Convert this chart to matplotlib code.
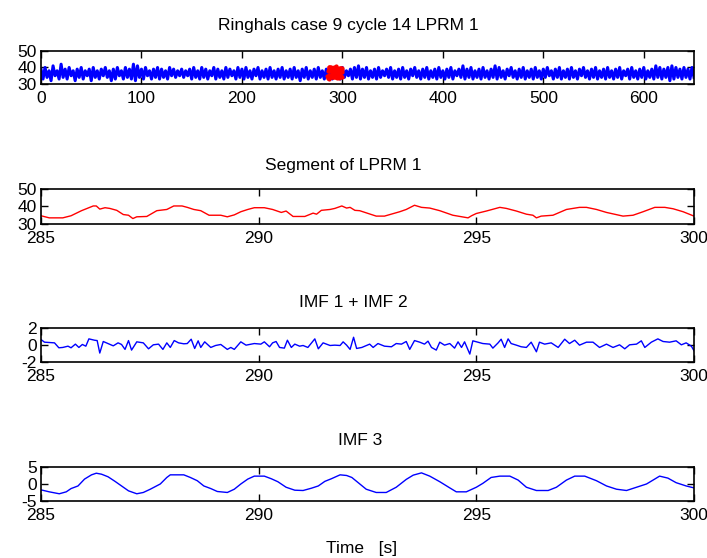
import numpy as np
import matplotlib
matplotlib.use('Agg')
import matplotlib.pyplot as plt

plt.rcParams['font.family'] = ['Liberation Sans', 'DejaVu Sans']
plt.rcParams['font.size'] = 12.5
plt.rcParams['axes.unicode_minus'] = False

# full LPRM 1 record, one value every 2 s
lprm_t = np.arange(0, 651, 2)
lprm = [39,33,40,34,38,32,41,35,38,33,42,34,39,33,40,35,38,32,39,34,
        40,33,38,35,39,32,40,34,38,33,39,35,40,34,38,32,39,33,40,35,
        38,33,40,34,39,33,42,32,41,34,39,33,40,35,38,33,39,34,40,33,
        39,34,38,33,40,35,39,34,38,35,39,34,38,35,39,33,40,34,38,33,
        40,34,39,33,38,35,40,33,39,34,38,33,40,34,39,35,38,33,40,34,
        39,33,40,34,38,33,39,35,40,33,38,34,39,33,40,34,38,33,39,34,
        40,33,38,34,39,33,40,34,38,32,39,34,40,33,38,34,39,33,40,34,
        38,33,39,34,40,33,38,34,39,33,40,34,38,35,39,33,40,34,41,33,
        39,34,40,33,38,34,39,33,40,34,38,35,39,34,40,33,38,34,39,33,
        40,34,38,33,39,35,40,34,38,33,39,34,40,33,38,34,39,33,40,34,
        38,33,39,34,40,33,38,35,39,34,41,33,39,34,40,33,38,34,39,33,
        40,34,38,33,39,34,41,33,40,34,38,33,39,35,40,34,38,33,39,34,
        40,33,38,34,39,33,40,34,38,33,39,34,40,35,38,33,39,34,40,33,
        38,34,39,33,40,34,38,33,39,35,40,34,38,33,39,34,40,33,38,34,
        39,33,40,34,38,33,39,34,40,33,38,35,39,33,40,34,38,33,39,34,
        40,33,38,34,39,33,41,34,40,33,39,34,40,32,41,33,40,34,39,33,
        40,34,39,33,40,34]

# segment 285-300 s
seg_t = [285.00,285.19,285.50,285.69,285.93,286.20,286.27,286.35,286.47,286.58,
         286.74,286.89,287.01,287.11,287.20,287.43,287.66,287.89,288.05,288.24,
         288.36,288.51,288.67,288.86,289.13,289.28,289.44,289.59,289.75,289.90,
         290.13,290.32,290.52,290.63,290.79,291.06,291.25,291.33,291.44,291.64,
         291.75,291.91,292.02,292.10,292.21,292.32,292.70,292.89,293.24,293.39,
         293.58,293.74,293.93,294.16,294.46,294.81,294.89,295.00,295.23,295.54,
         295.69,295.92,296.15,296.30,296.38,296.49,296.76,297.07,297.37,297.53,
         297.76,297.99,298.37,298.60,298.83,299.10,299.33,299.52,299.75,300.00]
seg = [34.7,33.5,33.5,34.7,37.6,40.3,40.3,38.5,39.3,38.9,
       37.8,35.4,35.0,33.1,34.1,34.3,37.6,38.3,40.3,40.3,
       39.5,38.3,37.6,35.0,35.0,34.1,35.2,37.0,38.3,39.3,
       39.3,38.3,36.6,37.4,34.3,34.3,36.2,35.6,37.8,38.3,
       38.9,40.3,39.1,39.5,37.8,37.6,34.5,34.5,37.0,38.3,
       40.7,39.5,39.1,37.6,35.0,33.5,34.7,36.0,37.4,39.5,
       38.9,37.4,35.6,35.0,33.5,34.5,35.0,38.3,39.5,39.5,
       38.3,36.6,34.5,35.0,37.0,39.5,39.5,38.7,37.0,34.5]

# IMF 1 + IMF 2
imf12_t = [285.00,285.08,285.31,285.41,285.50,285.62,285.69,285.79,285.87,285.95,
           286.03,286.10,286.23,286.29,286.35,286.43,286.54,286.66,286.77,286.85,
           286.93,287.01,287.08,287.20,287.35,287.47,287.58,287.70,287.80,287.89,
           287.97,288.06,288.16,288.28,288.36,288.45,288.53,288.61,288.67,288.76,
           288.90,289.01,289.13,289.28,289.36,289.44,289.59,289.71,289.90,290.05,
           290.13,290.25,290.32,290.40,290.48,290.59,290.66,290.75,290.83,290.94,
           291.02,291.13,291.29,291.37,291.48,291.64,291.75,291.87,291.94,292.02,
           292.10,292.18,292.25,292.37,292.55,292.63,292.74,292.89,293.05,293.16,
           293.28,293.39,293.47,293.58,293.70,293.81,293.89,293.97,294.08,294.16,
           294.27,294.39,294.50,294.58,294.66,294.73,294.85,294.92,295.04,295.15,
           295.31,295.38,295.50,295.57,295.65,295.73,295.80,295.92,296.03,296.15,
           296.26,296.38,296.45,296.57,296.72,296.88,297.03,297.14,297.26,297.37,
           297.53,297.68,297.83,297.99,298.14,298.29,298.41,298.52,298.68,298.79,
           298.87,299.02,299.17,299.29,299.44,299.59,299.71,299.82,299.94,300.00]
imf12 = [0.64,0.33,0.25,-0.33,-0.29,-0.14,-0.33,0.10,-0.29,0.06,
         -0.14,0.72,0.56,0.52,-0.95,0.41,0.17,-0.10,0.25,0.06,
         -0.52,0.52,-0.60,0.37,0.25,-0.45,0.02,0.10,-0.52,0.25,
         -0.29,0.52,0.25,0.14,0.17,0.68,-0.41,0.49,-0.29,0.37,
         -0.29,-0.06,0.06,-0.52,-0.29,-0.52,0.37,-0.02,0.17,0.10,
         0.37,-0.21,0.25,0.41,-0.29,-0.37,0.56,-0.29,0.10,-0.14,
         -0.06,-0.29,0.72,-0.45,0.25,-0.06,-0.02,-0.06,0.37,-0.02,
         -0.52,0.91,-0.41,-0.29,0.10,-0.29,0.17,-0.14,-0.21,0.17,
         0.10,0.41,-0.52,0.52,0.33,0.10,0.45,-0.29,-0.60,0.33,
         -0.02,0.17,-0.37,0.37,-0.29,0.37,-1.07,0.49,0.33,0.17,
         0.10,-0.37,0.25,0.68,-0.29,0.72,0.17,-0.02,-0.21,-0.29,
         0.33,-0.80,0.33,0.10,0.25,-0.29,0.68,0.17,0.56,-0.02,
         0.33,0.33,-0.29,0.10,-0.29,0.02,-0.45,0.02,0.10,0.49,
         -0.29,0.33,0.72,0.41,0.33,0.49,0.02,0.25,-0.14,-0.68]

# IMF 3
imf3_t = [285.00,285.19,285.42,285.58,285.69,285.85,286.00,286.16,286.27,286.39,
          286.54,286.70,286.85,287.01,287.20,287.35,287.51,287.74,287.89,287.97,
          288.28,288.43,288.59,288.74,288.90,289.05,289.28,289.44,289.59,289.75,
          289.90,290.13,290.29,290.44,290.63,290.83,291.02,291.21,291.37,291.52,
          291.67,291.87,292.02,292.14,292.25,292.47,292.70,292.93,293.16,293.39,
          293.55,293.74,293.93,294.16,294.39,294.54,294.77,295.00,295.15,295.34,
          295.54,295.77,295.96,296.15,296.38,296.65,296.84,297.07,297.26,297.49,
          297.76,297.99,298.22,298.45,298.68,298.91,299.06,299.21,299.40,299.59,
          299.82,300.00]
imf3 = [-1.73,-2.31,-2.88,-2.31,-1.35,-0.58,1.44,2.69,3.17,2.88,
        2.12,0.77,-0.58,-2.02,-2.88,-2.50,-1.54,0.00,1.92,2.69,
        2.69,1.92,0.96,-0.58,-1.35,-2.21,-2.50,-1.54,0.00,1.44,
        2.31,2.31,1.54,0.67,-0.96,-1.83,-1.92,-1.25,-0.58,0.77,
        1.54,2.69,2.50,1.92,0.77,-1.54,-2.50,-2.50,-0.96,1.35,
        2.60,3.27,2.31,0.67,-1.15,-2.31,-2.31,-0.96,0.19,1.92,
        2.31,2.31,1.15,-0.96,-1.92,-1.92,-0.96,1.15,2.31,2.31,
        0.96,-0.58,-1.54,-1.92,-0.96,0.00,1.15,2.31,1.73,0.38,
        -0.58,-1.15]

fig = plt.figure(figsize=(7.07, 5.58), dpi=100)
left, width = 0.058, 0.9236
rects = [(0.8495, 0.0591), (0.5986, 0.0627), (0.3513, 0.0609), (0.1022, 0.0609)]
axs = [fig.add_axes([left, b, width, h]) for b, h in rects]

for ax in axs:
    ax.tick_params(direction='in', top=True, right=True, length=5, width=1,
                   labelsize=12.5)
    ax.tick_params(axis='x', pad=5)
    ax.tick_params(axis='y', pad=3)
    for s in ax.spines.values():
        s.set_linewidth(1.2)

ax = axs[0]
ax.plot(lprm_t, lprm, color='#0000ff', lw=2.2)
ax.plot(seg_t, seg, '.', color='#ff0000', ms=4)
ax.set_xlim(0, 650)
ax.set_ylim(30, 50)
ax.set_xticks(range(0, 601, 100))
ax.set_yticks([30, 40, 50])
ax.set_title('Ringhals case 9 cycle 14 LPRM 1', x=0.470, pad=15, fontsize=12.5)

ax = axs[1]
ax.plot(seg_t, seg, color='#ff0000', lw=1.0)
ax.set_xlim(285, 300)
ax.set_ylim(30, 50)
ax.set_xticks([285, 290, 295, 300])
ax.set_yticks([30, 40, 50])
ax.set_title('Segment of LPRM 1', x=0.463, pad=14, fontsize=12.5)

ax = axs[2]
ax.plot(imf12_t, imf12, color='#0000ff', lw=1.0)
ax.set_xlim(285, 300)
ax.set_ylim(-2, 2)
ax.set_xticks([285, 290, 295, 300])
ax.set_yticks([-2, 0, 2])
ax.set_title('IMF 1 + IMF 2', x=0.4785, pad=15, fontsize=12.5)

ax = axs[3]
ax.plot(imf3_t, imf3, color='#0000ff', lw=1.0)
ax.set_xlim(285, 300)
ax.set_ylim(-5, 5)
ax.set_xticks([285, 290, 295, 300])
ax.set_yticks([-5, 0, 5])
ax.set_title('IMF 3', x=0.4885, pad=16, fontsize=12.5)

fig.text(362 / 707, 1 - 548 / 558, 'Time   [s]', ha='center', va='center', fontsize=12.5)

fig.savefig('out.png', dpi=100)
